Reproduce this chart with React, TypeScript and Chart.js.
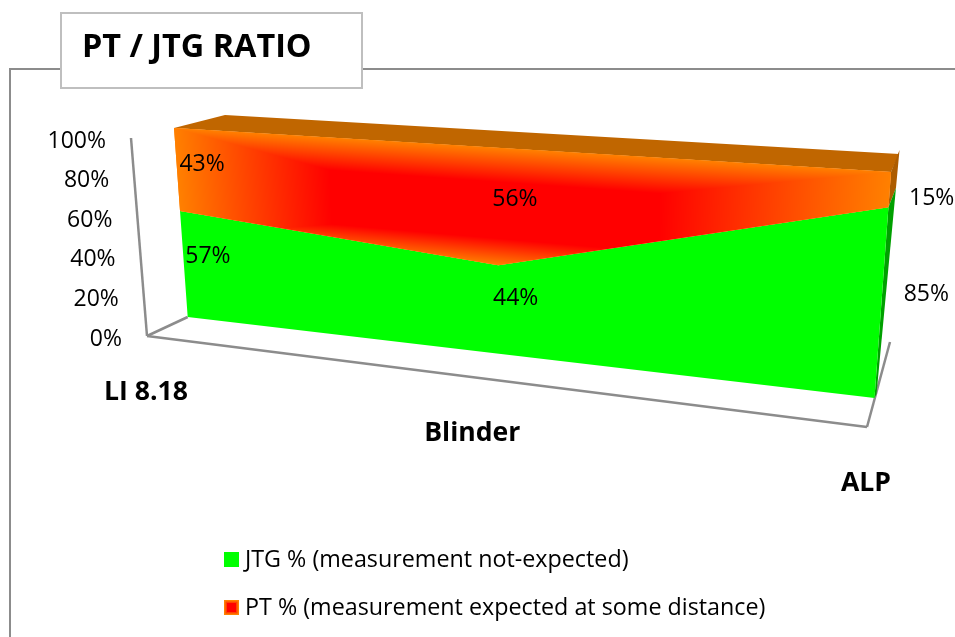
import React, { useEffect, useRef } from "react";
import { Chart, registerables } from "chart.js";

Chart.register(...registerables);

const categories = ["LI 8.18", "Blinder", "ALP"];
const jtgValues = [57, 44, 85];
const ptValues = [43, 56, 15];
const yTicks = [0, 20, 40, 60, 80, 100];
const chartTitle = "PT / JTG RATIO";
const jtgLabel = "JTG % (measurement not-expected)";
const ptLabel = "PT % (measurement expected at some distance)";

const FONT = '"Open Sans"';
const GREY = "#8c8c8c";

// view of the 3-D plane: corners of the front face (value 0 / value 100)
const BL = [187.7, 317];
const BR = [874.5, 398];
const TR = [891, 172];
const TL = [174, 128];
const BACK_TL = [225, 115];
const BACK_TR = [899, 154];
const FLOOR_L = [147, 336];
const FLOOR_R = [867, 427];
const WALL_TOP = [131, 138];
const FLOOR_BACK_R = [890, 342];

function makeHomography() {
  const [x0, y0] = BL, [x1, y1] = BR, [x2, y2] = TR, [x3, y3] = TL;
  const dx1 = x1 - x2, dx2 = x3 - x2, sx = x0 - x1 + x2 - x3;
  const dy1 = y1 - y2, dy2 = y3 - y2, sy = y0 - y1 + y2 - y3;
  const den = dx1 * dy2 - dx2 * dy1;
  const g = (sx * dy2 - dx2 * sy) / den;
  const h = (dx1 * sy - sx * dy1) / den;
  const a = x1 - x0 + g * x1, b = x3 - x0 + h * x3, c = x0;
  const d = y1 - y0 + g * y1, e = y3 - y0 + h * y3, f = y0;
  const A = e - f * h, B = c * h - b, C = b * f - c * e;
  const D = f * g - d, E = a - c * g, F = c * d - a * f;
  const G = d * h - e * g, H = b * g - a * h, I = a * e - b * d;
  return {
    fwd: (u: number, v: number) => {
      const w = g * u + h * v + 1;
      return [(a * u + b * v + c) / w, (d * u + e * v + f) / w];
    },
    inv: (x: number, y: number) => {
      const w = G * x + H * y + I;
      return [(A * x + B * y + C) / w, (D * x + E * y + F) / w];
    },
  };
}
const view = makeHomography();

const poly = (ctx: CanvasRenderingContext2D, pts: number[][], fill?: string) => {
  ctx.beginPath();
  pts.forEach((p, i) => (i ? ctx.lineTo(p[0], p[1]) : ctx.moveTo(p[0], p[1])));
  ctx.closePath();
  if (fill) {
    ctx.fillStyle = fill;
    ctx.fill();
  }
};

const line = (ctx: CanvasRenderingContext2D, a: number[], b: number[]) => {
  ctx.strokeStyle = GREY;
  ctx.lineWidth = 2.5;
  ctx.beginPath();
  ctx.moveTo(a[0], a[1]);
  ctx.lineTo(b[0], b[1]);
  ctx.stroke();
};

const text = (
  ctx: CanvasRenderingContext2D,
  s: string,
  x: number,
  y: number,
  font: string,
  align: CanvasTextAlign = "center"
) => {
  ctx.font = font;
  ctx.fillStyle = "#000";
  ctx.textAlign = align;
  ctx.textBaseline = "middle";
  ctx.fillText(s, x, y);
};

// element position -> (u, v) on the plane
const uv = (chart: any, el: any) => {
  const xs = chart.scales.x, ys = chart.scales.y;
  return [(el.x - xs.left) / xs.width, (ys.bottom - el.y) / ys.height];
};

// Sliding depth of the right-hand end of the plane
const depth = (v: number) => [2 + 6.5 * v, -4 - 18 * v];

const labelNudge = [
  [[24, -8], [25, -5]],
  [[17, -11], [17, -8]],
  [[45, -10], [42, 9]],
];

const scene = {
  id: "scene",
  beforeDatasetsDraw(chart: any) {
    const ctx: CanvasRenderingContext2D = chart.ctx;
    const low = chart.getDatasetMeta(0).data.map((el: any) => uv(chart, el));
    const high = chart.getDatasetMeta(1).data.map((el: any) => uv(chart, el));
    const n = low.length - 1;
    const ys = chart.scales.y;

    ctx.save();
    // frame
    ctx.strokeStyle = GREY;
    ctx.lineWidth = 2;
    ctx.beginPath();
    ctx.moveTo(10, 637);
    ctx.lineTo(10, 69);
    ctx.lineTo(955, 69);
    ctx.stroke();
    // title box
    ctx.fillStyle = "#fff";
    ctx.fillRect(61, 13, 301, 75);
    ctx.strokeStyle = "#bfbfbf";
    ctx.strokeRect(61, 13, 301, 75);
    text(ctx, chartTitle, 82, 48, `bold 32.4px ${FONT}`, "left");

    // axes
    line(ctx, WALL_TOP, FLOOR_L);
    line(ctx, FLOOR_L, FLOOR_R);
    line(ctx, FLOOR_L, BL);
    line(ctx, FLOOR_R, FLOOR_BACK_R);

    // y tick labels
    chart.scales.y.getTicks().forEach((t: any) => {
      const f = (t.value - ys.min) / (ys.max - ys.min);
      const x = FLOOR_L[0] + (WALL_TOP[0] - FLOOR_L[0]) * f - 25;
      const y = FLOOR_L[1] + (WALL_TOP[1] - FLOOR_L[1]) * f + 3;
      text(ctx, `${t.value}%`, x, y, `23px ${FONT}`, "right");
    });

    // category labels
    chart.data.labels.forEach((lab: string, i: number) => {
      const p = view.fwd(low[i][0], 0);
      const s = (p[0] - BL[0]) / (BR[0] - BL[0]);
      const x = FLOOR_L[0] + (FLOOR_R[0] - FLOOR_L[0]) * s;
      const y = FLOOR_L[1] + (FLOOR_R[1] - FLOOR_L[1]) * s;
      text(ctx, lab, x - 1, y + 56, `bold 26.6px ${FONT}`);
    });

    // top and side faces
    poly(ctx, [view.fwd(high[0][0], high[0][1]), BACK_TL, BACK_TR, view.fwd(high[n][0], high[n][1])], "#c06600");
    const side = (a: number, b: number, color: string) => {
      const pa = view.fwd(1, a), pb = view.fwd(1, b), da = depth(a), db = depth(b);
      poly(ctx, [pa, pb, [pb[0] + db[0], pb[1] + db[1]], [pa[0] + da[0], pa[1] + da[1]]], color);
    };
    side(low[n][1], high[n][1], "#ad5c00");
    side(0, low[n][1], "#00a000");

    // JTG face
    const base = low.map((p: number[]) => view.fwd(p[0], 0));
    const lowPts = low.map((p: number[]) => view.fwd(p[0], p[1]));
    const highPts = high.map((p: number[]) => view.fwd(p[0], p[1]));
    poly(ctx, [...base, ...lowPts.slice().reverse()], chart.data.datasets[0].backgroundColor);

    // PT face with its path gradient, computed in plane space
    const vMin = Math.min(...low.map((p: number[]) => p[1]));
    const all = [...lowPts, ...highPts];
    const x0 = Math.floor(Math.min(...all.map((p: number[]) => p[0])));
    const x1 = Math.ceil(Math.max(...all.map((p: number[]) => p[0])));
    const y0 = Math.floor(Math.min(...all.map((p: number[]) => p[1])));
    const y1 = Math.ceil(Math.max(...all.map((p: number[]) => p[1])));
    const off = document.createElement("canvas");
    off.width = x1 - x0;
    off.height = y1 - y0;
    const oc = off.getContext("2d")!;
    const img = oc.createImageData(off.width, off.height);
    for (let py = 0; py < off.height; py++) {
      for (let px = 0; px < off.width; px++) {
        const [u, v] = view.inv(px + x0 + 0.5, py + y0 + 0.5);
        const t = Math.max(
          0,
          Math.min(1, u / 0.25, (1 - u) / 0.28, (v - vMin) / 0.13, (1 - v) / 0.16)
        );
        const i = (py * off.width + px) * 4;
        img.data[i] = 255;
        img.data[i + 1] = Math.round(128 * (1 - t));
        img.data[i + 2] = 0;
        img.data[i + 3] = 255;
      }
    }
    oc.putImageData(img, 0, 0);
    poly(ctx, [...lowPts, ...highPts.slice().reverse()], "#ff8000");
    ctx.save();
    poly(ctx, [...lowPts, ...highPts.slice().reverse()]);
    ctx.clip();
    ctx.drawImage(off, x0, y0);
    ctx.restore();

    // value labels
    chart.data.datasets.forEach((ds: any, d: number) => {
      const meta = d === 0 ? low : high;
      ds.data.forEach((val: number, i: number) => {
        const v = d === 0 ? val / 200 : meta[i][1] - val / 200;
        const p = view.fwd(meta[i][0], v);
        const nudge = labelNudge[i][d];
        text(ctx, `${val}%`, p[0] + nudge[0], p[1] + nudge[1], `23px ${FONT}`);
      });
    });

    // legend
    const rows = [552, 600];
    chart.data.datasets.forEach((ds: any, d: number) => {
      const y = rows[d];
      if (d === 0) {
        ctx.fillStyle = ds.backgroundColor;
        ctx.fillRect(224, y, 15, 15);
      } else {
        ctx.fillStyle = "#ff8000";
        ctx.fillRect(224, y, 15, 15);
        ctx.fillStyle = "#ff4000";
        ctx.fillRect(225.5, y + 1.5, 12, 12);
        ctx.fillStyle = ds.backgroundColor;
        ctx.fillRect(227, y + 3, 9, 9);
      }
      text(ctx, ds.label, 245, y + 8, `23.3px ${FONT}`, "left");
    });
    ctx.restore();
  },
};

export default function App() {
  const ref = useRef<HTMLCanvasElement>(null);
  useEffect(() => {
    const chart = new Chart(ref.current!, {
      type: "line",
      data: {
        labels: categories,
        datasets: [
          { label: jtgLabel, data: jtgValues, backgroundColor: "#00ff00", borderWidth: 0, pointRadius: 0, fill: false },
          { label: ptLabel, data: ptValues, backgroundColor: "#ff0000", borderWidth: 0, pointRadius: 0, fill: false },
        ],
      },
      options: {
        animation: false,
        responsive: false,
        devicePixelRatio: 1,
        layout: { padding: 0 },
        plugins: { legend: { display: false }, title: { display: false }, tooltip: { enabled: false } },
        scales: {
          x: { display: false, offset: false },
          y: {
            display: false,
            stacked: true,
            min: 0,
            max: 100,
            afterBuildTicks: (s: any) => {
              s.ticks = yTicks.map((value) => ({ value }));
            },
          },
        },
      },
      plugins: [scene],
    } as any);
    return () => chart.destroy();
  }, []);
  return (
    <div style={{ position: "absolute", left: 0, top: 0, width: 955, height: 637, background: "#fff" }}>
      <canvas ref={ref} width={955} height={637} style={{ display: "block" }} />
    </div>
  );
}
